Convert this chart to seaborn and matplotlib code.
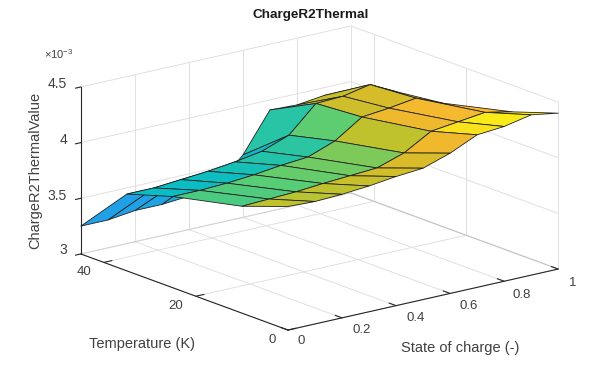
import matplotlib
matplotlib.use("Agg")
import matplotlib.pyplot as plt
import numpy as np
import seaborn as sns
from matplotlib.colors import LinearSegmentedColormap, Normalize

soc = [0, 0.1, 0.2, 0.3, 0.4, 0.5, 0.6, 0.7, 0.8, 0.9, 1]
temperature = [0, 10, 25, 35, 45]

z_t0 = [4.11, 4.10, 4.11, 4.13, 4.16, 4.18, 4.26, 4.37, 4.39, 4.44, 4.40]
z_t10 = [3.96, 3.97, 3.98, 4.00, 4.015, 4.03, 4.11, 4.25, 4.28, 4.31, 4.26]
z_t25 = [3.82, 3.82, 3.83, 3.85, 3.88, 3.90, 3.99, 4.15, 4.175, 4.21, 4.11]
z_t35 = [3.69, 3.69, 3.71, 3.73, 3.76, 3.80, 3.89, 4.12, 4.13, 4.18, 4.06]
z_t45 = [3.25, 3.25, 3.28, 3.28, 3.30, 3.33, 3.56, 3.91, 3.90, 3.93, 3.90]

soc_ticks = [0, 0.2, 0.4, 0.6, 0.8, 1]
temp_ticks = [0, 20, 40]
z_ticks = [3, 3.5, 4, 4.5]

soc_labels = ["0", "0.2", "0.4", "0.6", "0.8", "1"]
temp_labels = ["0", "20", "40"]
z_labels = ["3", "3.5", "4", "4.5"]

face_colors = [(0, "#352a87"), (0.37, "#20a0e6"), (0.48, "#0abcc3"), (0.55, "#2ec6a0"),
               (0.62, "#5acd73"), (0.72, "#bec32d"), (0.80, "#e1b928"),
               (0.90, "#ffb932"), (0.95, "#f8eb19"), (1, "#f8eb19")]

GRID = "#e0e0e0"
AXIS = "#262626"
TEXT = "#404040"


def px_text(fig, x, y, s, color=TEXT, **kw):
    fig.text(x / 616, 1 - y / 371, s, color=color, va="center", **kw)


def main():
    sns.set_theme(style="white")
    plt.rcParams["font.family"] = ["Liberation Sans", "DejaVu Sans"]
    plt.rcParams["mathtext.default"] = "regular"

    fig = plt.figure(figsize=(6.16, 3.71), dpi=100)
    ax = fig.add_axes([64.8 / 616, -61.7 / 371, 496 / 616, 496 / 371],
                      projection="3d", computed_zorder=False)
    ax.set_proj_type("ortho")
    ax.view_init(elev=16.74, azim=-128.1)
    ax.set_box_aspect((343.4, 335.8, 174.4))
    ax.set_xlim(0, 1, view_margin=0)
    ax.set_ylim(0, 45, view_margin=0)
    ax.set_zlim(3, 4.5, view_margin=0)
    ax.set_axis_off()

    # back walls and floor
    for s in soc_ticks:
        ax.plot([s, s], [0, 45], [3, 3], color=GRID, lw=0.7, zorder=1)
        ax.plot([s, s], [45, 45], [3, 4.5], color=GRID, lw=0.7, zorder=1)
    for t in temp_ticks:
        ax.plot([0, 1], [t, t], [3, 3], color=GRID, lw=0.7, zorder=1)
        ax.plot([1, 1], [t, t], [3, 4.5], color=GRID, lw=0.7, zorder=1)
    for z in z_ticks:
        ax.plot([0, 1], [45, 45], [z, z], color=GRID, lw=0.7, zorder=1)
        ax.plot([1, 1], [0, 45], [z, z], color=GRID, lw=0.7, zorder=1)
    ax.plot([1, 1], [0, 45], [3, 3], color="#c4c4c4", lw=0.7, zorder=1)
    ax.plot([0, 1], [45, 45], [3, 3], color="#d4d4d4", lw=0.7, zorder=1)

    Z = np.array([z_t0, z_t10, z_t25, z_t35, z_t45])
    X, Y = np.meshgrid(soc, temperature)
    cmap = LinearSegmentedColormap.from_list("faces", face_colors)
    norm = Normalize(Z.min(), Z.max())
    ax.plot_surface(X, Y, Z, facecolors=cmap(norm(Z)), rstride=1, cstride=1,
                    shade=False, edgecolor="#222222", linewidth=0.6, zorder=2)

    # axis rulers
    ax.plot([0, 0], [45, 45], [3, 4.5], color=AXIS, lw=0.8, zorder=3)
    ax.plot([0, 0], [0, 45], [3, 3], color=AXIS, lw=0.8, zorder=3)
    ax.plot([0, 1], [0, 0], [3, 3], color=AXIS, lw=0.8, zorder=3)
    for z in z_ticks:
        ax.plot([-0.02, 0], [45, 45], [z, z], color=AXIS, lw=0.8, zorder=3)
    for t in temp_ticks:
        ax.plot([0, 0.03], [t, t], [3, 3], color=AXIS, lw=0.8, zorder=3)
    for s in soc_ticks:
        ax.plot([s, s], [0, 1.5], [3, 3], color=AXIS, lw=0.8, zorder=3)

    for lab, y in zip(z_labels, [250, 196, 140, 84]):
        px_text(fig, 67, y, lab, ha="right", fontsize=10)
    for lab, x, y in zip(temp_labels, [272, 176, 84], [340, 306, 272]):
        px_text(fig, x, y, lab, ha="center", fontsize=9.5)
    for lab, x, y in zip(soc_labels, [301, 362, 416, 469, 522, 573],
                         [341, 330, 318, 306, 295, 283]):
        px_text(fig, x, y, lab, ha="center", fontsize=9.5)

    px_text(fig, 311, 15, "ChargeR2Thermal", color="#1a1a1a", ha="center", fontsize=9.7, fontweight="bold")
    px_text(fig, 142, 344, "Temperature (K)", ha="center", fontsize=10.5)
    px_text(fig, 460, 348, "State of charge (-)", ha="center", fontsize=10.5)
    px_text(fig, 35, 170, "ChargeR2ThermalValue", ha="center", rotation=90, fontsize=10.5)
    px_text(fig, 44, 54, r"$\times10^{-3}$", ha="left", fontsize=8)

    fig.savefig("out.png", dpi=100)


if __name__ == "__main__":
    main()
